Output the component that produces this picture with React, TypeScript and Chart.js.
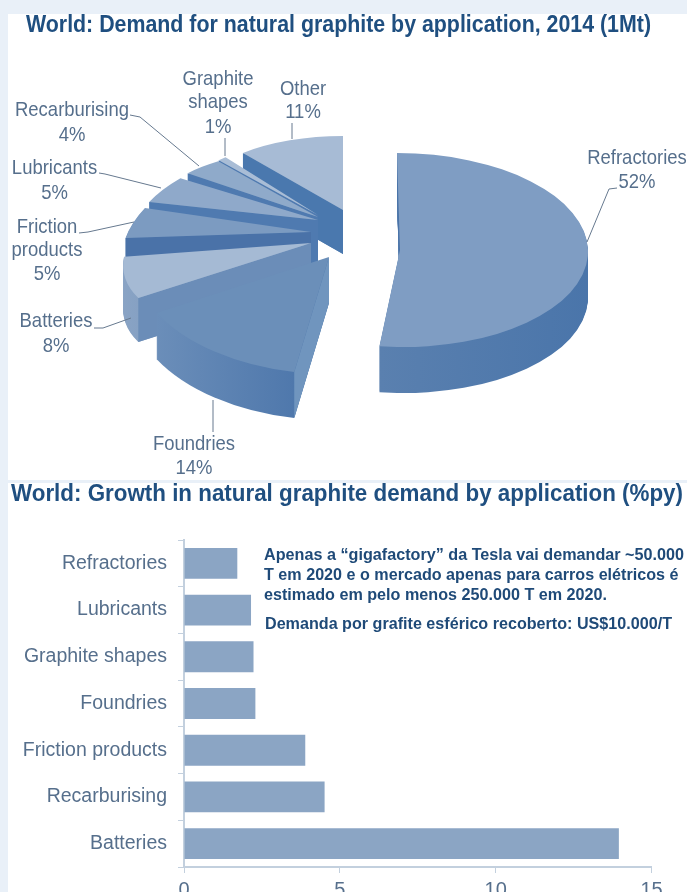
import React, { useEffect, useRef } from "react";
import { Chart, registerables } from "chart.js";

Chart.register(...registerables);

// ---- data ----
const pieCategories = ["Refractories", "Foundries", "Batteries", "Friction products", "Lubricants", "Recarburising", "Graphite shapes", "Other"];
const pieValues = [52, 14, 8, 5, 5, 4, 1, 11];
const barCategories = ["Refractories", "Lubricants", "Graphite shapes", "Foundries", "Friction products", "Recarburising", "Batteries"];
const barValues = [1.71, 2.15, 2.23, 2.29, 3.89, 4.51, 13.95];
const xTicks = [0, 5, 10, 15];

// ---- texts ----
const pieTitle = "World: Demand for natural graphite by application, 2014 (1Mt)";
const barTitle = "World: Growth in natural graphite demand by application (%py)";
const noteLines = [
  "Apenas a \u201Cgigafactory\u201D da Tesla vai demandar ~50.000",
  "T em 2020 e o mercado apenas para carros el\u00E9tricos \u00E9",
  "estimado em pelo menos 250.000 T em 2020.",
  "Demanda por grafite esf\u00E9rico recoberto: US$10.000/T",
];

// ---- styles ----
const FONT = '"Liberation Sans", Arial, sans-serif';
const TITLE_COLOR = "#1f4f80";
const LABEL_COLOR = "#566f8c";
const AXIS_COLOR = "#c3d0de";
const BAR_COLOR = "#8ba5c4";

const topColors = ["#7f9dc3", "#6b8fb9", "#a5bad4", "#7c9bc1", "#8fa9ca", "#8faaca", "#a9bdd6", "#a7bbd5"];
const faceColors = ["#4a74a9", "#7095be", "#6b8db8", "#4a72a8", "#4f7ab0", "#4f7ab0", "#4f7ab0", "#4a78ae"];
const sideLeft = ["#5a80af", "#6b8eb9", "#8aa4c5", "#4f78ac", "#5a82b3", "#5a82b3", "#5a82b3", "#5a82b3"];
const sideRight = ["#4a75aa", "#4f78ac", "#86a1c3", "#4f78ac", "#5a82b3", "#5a82b3", "#5a82b3", "#5a82b3"];

// Where each exploded slice sits on the page and how its circle is projected
const sliceApexX = [400, 329, 311, 311, 318, 318, 318, 343];
const sliceApexY = [250, 257, 243, 232, 220, 217, 215, 210];
const sliceA = [188, 198, 185.5, 183, 182, 167, 145, 157];
const sliceB = [0, 8, -8, 0, -2.5, 8, 0, 0];
const sliceC = [3, -10, -30, -45, -30, -20, 0, 0];
const sliceD = [97, 117, 90, 96.5, 82, 69, 75, 74];
const sliceDepth = [46, 46, 44, 44, 44, 44, 44, 44];
const drawOrder = [7, 6, 5, 4, 3, 2, 1, 0];

const pieLabels = [
  { lines: ["Graphite", "shapes", "1%"], x: 218, y: [79, 102, 127] },
  { lines: ["Other", "11%"], x: 303, y: [89, 112] },
  { lines: ["Recarburising", "4%"], x: 72, y: [110, 135] },
  { lines: ["Lubricants", "5%"], x: 54.5, y: [168, 193] },
  { lines: ["Friction", "products", "5%"], x: 47, y: [227, 250, 274] },
  { lines: ["Batteries", "8%"], x: 56, y: [321, 346] },
  { lines: ["Foundries", "14%"], x: 194, y: [444, 468] },
  { lines: ["Refractories", "52%"], x: 637, y: [158, 182] },
];
const leaders = [
  [[130, 115], [140, 117], [199, 166]],
  [[225, 138], [225, 156]],
  [[292, 123], [292, 139]],
  [[99, 173], [105, 174], [161, 188]],
  [[79, 233], [88, 232], [134, 222]],
  [[94, 328], [103, 328], [131, 318]],
  [[213, 400], [213, 432]],
  [[617, 188], [609, 189], [587, 242]],
];

const PIE_LEFT = 8;
const PIE_TOP = 14;
const BAR_LEFT = 8;
const BAR_TOP = 483;

const pie3dPlugin = {
  id: "pie3d",
  beforeDatasetsDraw(chart: any) {
    const ctx = chart.ctx;
    const els = chart.getDatasetMeta(0).data;
    ctx.save();
    ctx.translate(-PIE_LEFT, -PIE_TOP);
    for (const i of drawOrder) {
      const el = els[i];
      const R = el.outerRadius;
      const [ax, ay] = [sliceApexX[i], sliceApexY[i]];
      const [a, b, c, d] = [sliceA[i], sliceB[i], sliceC[i], sliceD[i]];
      const place = (dy: number) => {
        ctx.save();
        ctx.translate(ax, ay + dy);
        ctx.transform(a / R, b / R, c / R, d / R, 0, 0);
        ctx.translate(-el.x, -el.y);
        el.draw(ctx);
        ctx.restore();
      };
      const base = el.options;
      // outer wall: the slice's own arc, repeated downward
      let minCos = 1;
      let maxCos = -1;
      for (let k = 0; k <= 24; k++) {
        const v = Math.cos(el.startAngle + ((el.endAngle - el.startAngle) * k) / 24);
        minCos = Math.min(minCos, v);
        maxCos = Math.max(maxCos, v);
      }
      const grad = ctx.createLinearGradient(el.x + R * minCos, 0, el.x + R * maxCos, 0);
      grad.addColorStop(0, sideLeft[i]);
      grad.addColorStop(1, sideRight[i]);
      el.options = { ...base, backgroundColor: grad, borderWidth: 0 };
      for (let dy = sliceDepth[i]; dy > 0; dy--) place(dy);
      // radial wall along the leading edge
      const cs = Math.cos(el.startAngle);
      const sn = Math.sin(el.startAngle);
      const ex = a * cs + c * sn;
      const ey = b * cs + d * sn;
      ctx.fillStyle = faceColors[i];
      ctx.beginPath();
      ctx.moveTo(ax, ay);
      ctx.lineTo(ax + ex, ay + ey);
      ctx.lineTo(ax + ex, ay + ey + sliceDepth[i]);
      ctx.lineTo(ax, ay + sliceDepth[i]);
      ctx.closePath();
      ctx.fill();
      // top face
      el.options = base;
      place(0);
    }
    // leaders and labels
    ctx.strokeStyle = "#66798f";
    ctx.lineWidth = 1;
    for (const pts of leaders) {
      ctx.beginPath();
      pts.forEach((p, k) => (k ? ctx.lineTo(p[0], p[1]) : ctx.moveTo(p[0], p[1])));
      ctx.stroke();
    }
    ctx.fillStyle = LABEL_COLOR;
    ctx.font = `21px ${FONT}`;
    ctx.textAlign = "center";
    ctx.textBaseline = "middle";
    for (const l of pieLabels) {
      l.lines.forEach((t, k) => ctx.fillText(t, l.x, l.y[k], ctx.measureText(t).width * 0.88));
    }
    // title
    ctx.fillStyle = TITLE_COLOR;
    ctx.font = `bold 23.5px ${FONT}`;
    ctx.textAlign = "left";
    ctx.fillText(pieTitle, 26, 25.5, 625);
    ctx.restore();
    return false;
  },
};

const barNotesPlugin = {
  id: "barNotes",
  afterDraw(chart: any) {
    const ctx = chart.ctx;
    ctx.save();
    ctx.translate(-BAR_LEFT, -BAR_TOP);
    ctx.textBaseline = "middle";
    ctx.textAlign = "left";
    ctx.fillStyle = TITLE_COLOR;
    ctx.font = `bold 23.5px ${FONT}`;
    ctx.fillText(barTitle, 11, 495, 672);
    ctx.fillStyle = "#1f4a78";
    ctx.font = `bold 17px ${FONT}`;
    ctx.fillText(noteLines[0], 264, 555, 420);
    ctx.fillText(noteLines[1], 264, 575, 414.5);
    ctx.fillText(noteLines[2], 264, 595, 343);
    ctx.fillText(noteLines[3], 265, 624, 407);
    ctx.restore();
  },
};

export default function App() {
  const pieRef = useRef<HTMLCanvasElement>(null);
  const barRef = useRef<HTMLCanvasElement>(null);

  useEffect(() => {
    const pie = new Chart(pieRef.current as HTMLCanvasElement, {
      type: "pie",
      data: {
        labels: pieCategories,
        datasets: [{ data: pieValues, backgroundColor: topColors, borderWidth: 0 }],
      },
      options: {
        animation: false,
        responsive: false,
        maintainAspectRatio: false,
        rotation: 0,
        plugins: { legend: { display: false }, tooltip: { enabled: false } },
      },
      plugins: [pie3dPlugin],
    } as any);

    const bar = new Chart(barRef.current as HTMLCanvasElement, {
      type: "bar",
      data: {
        labels: barCategories,
        datasets: [{ data: barValues, backgroundColor: BAR_COLOR, borderWidth: 0, barPercentage: 0.66, categoryPercentage: 1 }],
      },
      options: {
        indexAxis: "y",
        animation: false,
        responsive: false,
        maintainAspectRatio: false,
        layout: { padding: { top: 57, right: 35.4, left: 0, bottom: 0 } },
        plugins: { legend: { display: false }, tooltip: { enabled: false } },
        scales: {
          x: {
            min: 0,
            max: 15,
            afterFit(s: any) { s.height = 56; },
            afterBuildTicks(s: any) { s.ticks = xTicks.map((v) => ({ value: v })); },
            border: { color: AXIS_COLOR, width: 2 },
            grid: { drawOnChartArea: false, tickLength: 6, color: AXIS_COLOR, lineWidth: 1 },
            ticks: { color: LABEL_COLOR, padding: 5, maxRotation: 0, font: { family: FONT, size: 20 } },
          },
          y: {
            afterFit(s: any) { s.width = 176; },
            border: { color: AXIS_COLOR, width: 2 },
            grid: { drawOnChartArea: false, offset: true, tickLength: 6, color: AXIS_COLOR, lineWidth: 1 },
            ticks: { color: LABEL_COLOR, padding: 11, font: { family: FONT, size: 19.5 } },
          },
        },
      },
      plugins: [barNotesPlugin],
    } as any);

    return () => {
      pie.destroy();
      bar.destroy();
    };
  }, []);

  const soft = "blur(0.4px)";
  return (
    <div style={{ position: "absolute", left: 0, top: 0, width: 687, height: 892, overflow: "hidden", background: "#e9f0f8" }}>
      <canvas ref={pieRef} width={679} height={466} style={{ position: "absolute", left: PIE_LEFT, top: PIE_TOP, width: 679, height: 466, background: "#fff", filter: soft }} />
      <canvas ref={barRef} width={679} height={440} style={{ position: "absolute", left: BAR_LEFT, top: BAR_TOP, width: 679, height: 440, background: "#fff", filter: soft }} />
    </div>
  );
}
